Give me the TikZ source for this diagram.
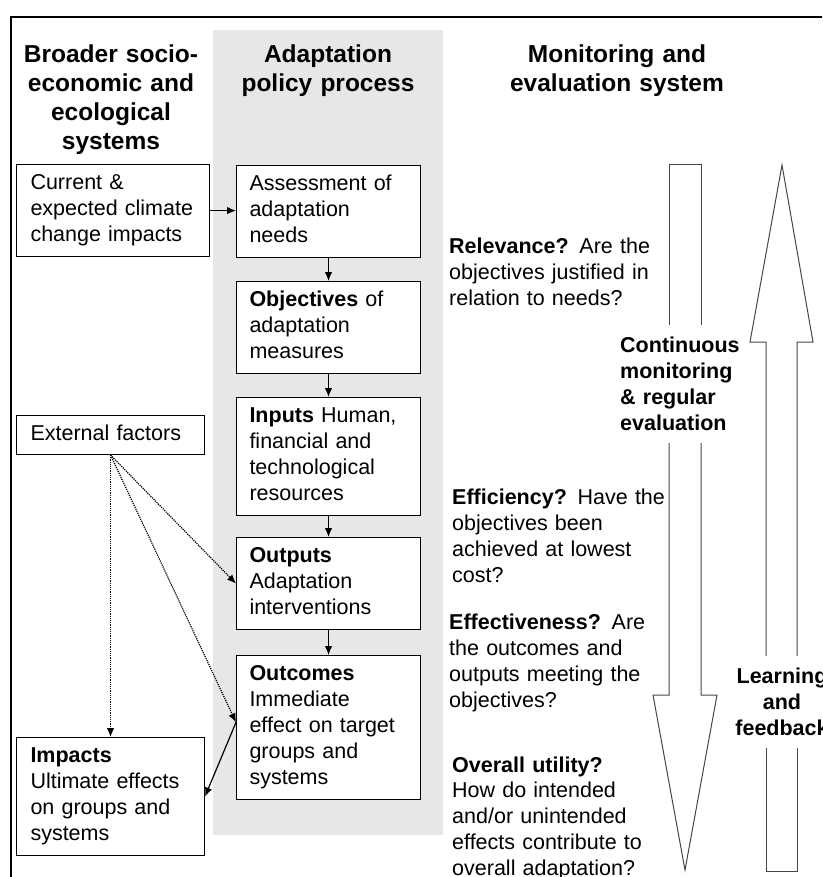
\documentclass[tikz,border=0pt]{standalone}
\usepackage{fontspec}
\setmainfont{Liberation Sans}
\usetikzlibrary{arrows.meta,calc}
\definecolor{band}{RGB}{231,231,231}
\definecolor{arrline}{RGB}{70,70,70}
\newcommand{\bodyfont}{\fontsize{21.5}{25.8}\selectfont}
\newcommand{\headfont}{\fontsize{24.5}{29}\selectfont\bfseries}
\newcommand{\lblfont}{\fontsize{21.5}{26}\selectfont\bfseries}
\begin{document}
\begin{tikzpicture}[x=1pt,y=-1pt,
  box/.style={draw, fill=white, line width=1pt, anchor=north west, inner xsep=13pt, inner ysep=7.4pt,
              font=\bodyfont, align=left, text width=#1},
  head/.style={anchor=north, inner sep=0pt, font=\headfont, align=center},
  qtext/.style={anchor=north west, inner sep=0pt, font=\bodyfont, align=left, text width=230pt},
  lbl/.style={inner sep=0pt, font=\lblfont},
  arr/.style={-{Latex[length=9pt,width=7.5pt]}, line width=1.2pt},
  dots/.style={arr, densely dotted},
  bigarrow/.style={draw=arrline, line width=1pt, line join=miter}
]
\useasboundingbox (0,0) rectangle (822,877);
\clip (0,0) rectangle (822,877);

% grey band and frame
\fill[band] (213,30) rectangle (443,835);
\draw[line width=2pt] (11,880) -- (11,17) -- (825,17);

% column headers
\node[head, text width=200pt] (hl) at (111,41.7) {\strut Broader socio-\\economic and\\ecological\\systems};
\node[head, text width=220pt] (hm) at (328,41.7) {\strut Adaptation\\policy process};
\node[head, text width=240pt] (hr) at (617,41.7) {\strut Monitoring and\\evaluation system};

% middle column boxes
\node[box=158pt] (ass) at (236,165) {\strut Assessment of\\adaptation\\needs\strut};
\node[box=158pt] (obj) at (236,281) {\strut\textbf{Objectives} of\\adaptation\\measures\strut};
\node[box=158pt] (inp) at (236,397) {\strut\textbf{Inputs} Human,\\financial and\\technological\\resources\strut};
\node[box=158pt] (out) at (236,537) {\strut\textbf{Outputs}\\Adaptation\\interventions\strut};
\node[box=158pt] (outc) at (236,655) {\strut\textbf{Outcomes}\\Immediate\\effect on target\\groups and\\systems\strut};

% left column boxes
\node[box=165pt, inner xsep=14pt] (cur) at (16,164) {\strut Current \&\\expected climate\\change impacts\strut};
\node[box=160pt, inner xsep=14pt, inner ysep=6.6pt] (ext) at (16,415) {\strut External factors\strut};
\node[box=160pt, inner xsep=14pt] (imp) at (16,737) {\strut\textbf{Impacts}\\Ultimate effects\\on groups and\\systems\strut};

% evaluation questions
\node[qtext] (rel) at (449,235.7) {\strut\textbf{Relevance?} Are the\\objectives justified in\\relation to needs?};
\node[qtext] (eff) at (452,486.7) {\strut\textbf{Efficiency?} Have the\\objectives been\\achieved at lowest\\cost?};
\node[qtext] (effv) at (449,611.7) {\strut\textbf{Effectiveness?} Are\\the outcomes and\\outputs meeting the\\objectives?};
\node[qtext] (util) at (452,753.9) {\strut\textbf{Overall utility?}\\How do intended\\and/or unintended\\effects contribute to\\overall adaptation?};

% big block arrows
\draw[bigarrow] (669,325) -- (669,165) -- (701,165) -- (701,325);
\draw[bigarrow] (669,443) -- (669,695) -- (653,695) -- (685,870) -- (717,695) -- (701,695) -- (701,443);
\draw[bigarrow] (766,656) -- (766,342) -- (750,342) -- (782,165) -- (813,342) -- (797,342) -- (797,656);
\draw[bigarrow] (766,748) -- (766,871) -- (797,871) -- (797,748);

\node[lbl, anchor=north west, align=left, text width=130pt] (cme) at (620,334.5) {\strut Continuous\\monitoring\\\& regular\\evaluation};
\node[lbl, anchor=north, align=center, text width=110pt] (lf) at (782,664.8) {\strut Learning\\and\\feedback};

% connectors
\coordinate (ocin) at ($(outc.north west)!0.465!(outc.south west)$);
\draw[arr] (cur.east) -- (cur.east -| ass.west);
\draw[arr] (ass.south) -- (obj.north);
\draw[arr] (obj.south) -- (inp.north);
\draw[arr] (inp.south) -- (out.north);
\draw[arr] (out.south) -- (outc.north);
\draw[dots] (ext.south) -- (imp.north);
\draw[dots] (ext.south) -- (out.west);
\draw[dots] (ext.south) -- (ocin);
\draw[arr] (ocin) -- (imp.east);
\end{tikzpicture}
\end{document}
